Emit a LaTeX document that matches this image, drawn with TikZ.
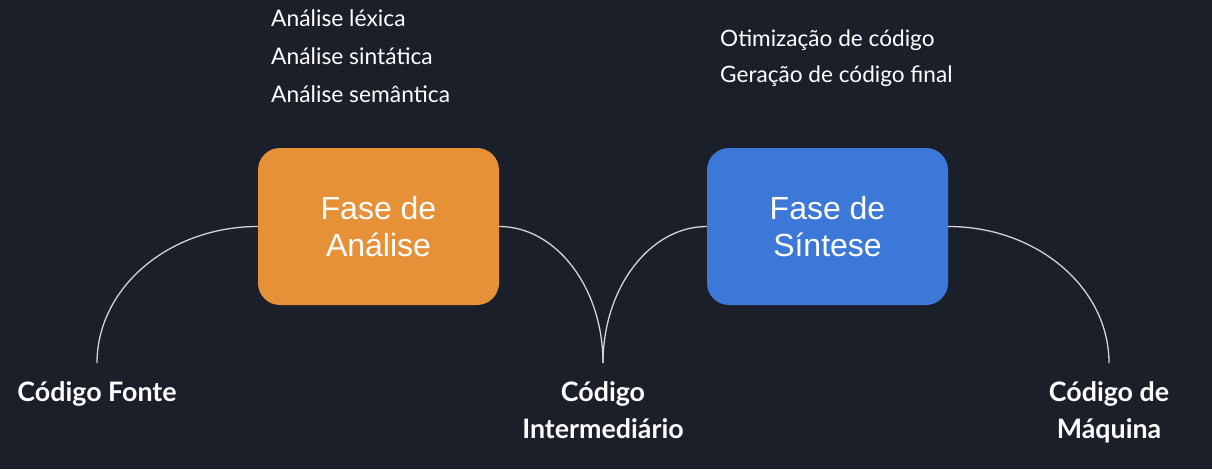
\documentclass[tikz,border=0pt]{standalone}
\usepackage{fontspec}
\setmainfont{Lato}
\newfontfamily\boxfont{Liberation Sans}
\usetikzlibrary{positioning}
\definecolor{bgdark}{HTML}{1B1F2A}
\definecolor{anaorange}{HTML}{E69138}
\definecolor{sinblue}{HTML}{3C78D8}
\definecolor{wiregray}{HTML}{D4D4D4}
\def\FaseAnalise{Fase de\\Análise}
\def\FaseSintese{Fase de\\Síntese}
\newcommand{\branch}[3]{\draw[wire] (#1) .. controls +(#2,0) and +(0,-75) .. (#3)}

\begin{document}
\begin{tikzpicture}[x=1pt, y=-1pt,
                    phase/.style={
                        rounded corners=22pt,
                        minimum width=241pt,
                        minimum height=157pt,
                        inner sep=0pt,
                        text=white,
                        align=center,
                        font=\boxfont\fontsize{32}{37}\selectfont
                    },
                    steps/.style={
                        anchor=base west,
                        inner sep=0pt,
                        text=white,
                        align=left
                    },
                    code/.style={
                        anchor=base,
                        inner sep=0pt,
                        text=white,
                        align=center,
                        font=\bfseries\fontsize{26.8}{37}\selectfont
                    },
                    wire/.style={draw=wiregray, line width=1.3pt}]
    \fill[bgdark] (0,0) rectangle (1212,469);
    \useasboundingbox (0,0) rectangle (1212,469);

    \node[phase, fill=anaorange] (ana) at (378.5,226.5) {\FaseAnalise};
    \node[phase, fill=sinblue] (sin) at (827.5,226.5) {\FaseSintese};

    % base anchor sits on the last line
    \node[steps, font=\fontsize{22.8}{38}\selectfont] (anasteps) at (271,102)
        {Análise léxica\\Análise sintática\\Análise semântica};
    \node[steps, font=\fontsize{22.6}{36}\selectfont] (sinsteps) at (720,82)
        {Otimização de código\\Geração de código final};

    \node[code] (fonte) at (97,401) {Código Fonte};
    \node[code] (inter) at (603,438) {Código\\Intermediário};
    \node[code] (maq) at (1109,438) {Código de\\Máquina};

    \coordinate (fonte-end) at (97,363);
    \coordinate (inter-end) at (603,363);
    \coordinate (maq-end) at (1109,363);

    \branch{ana.west}{-89}{fonte-end};
    \branch{ana.east}{57}{inter-end};
    \branch{sin.west}{-57}{inter-end};
    \branch{sin.east}{89}{maq-end};
\end{tikzpicture}
\end{document}
